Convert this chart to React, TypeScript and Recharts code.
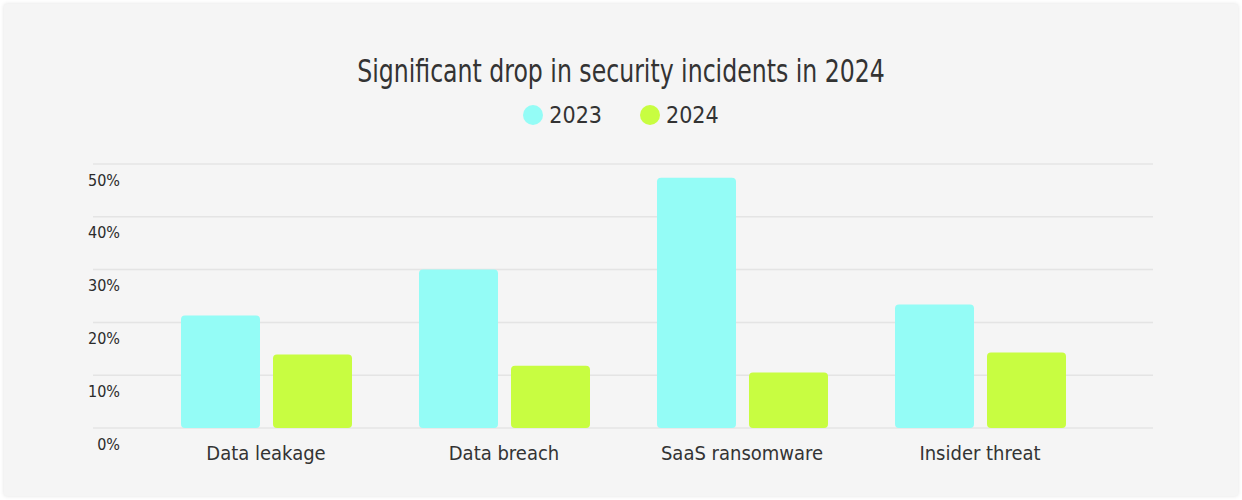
import React from 'react'
import { BarChart, Bar, XAxis, YAxis, CartesianGrid, Legend } from 'recharts'

const categories = ['Data leakage', 'Data breach', 'SaaS ransomware', 'Insider threat']
const values2023 = [21.3, 30, 47.4, 23.4]
const values2024 = [13.9, 11.8, 10.5, 14.3]
const yTicks = [0, 10, 20, 30, 40, 50]
const seriesNames = ['2023', '2024']

const FONT = '"DejaVu Sans Condensed", "DejaVu Sans", sans-serif'
const COLORS = ['#94fcf6', '#c8fd41']

const data = categories.map((name, i) => ({ name, y2023: values2023[i], y2024: values2024[i] }))

function YTick(props: any) {
  const { y, payload } = props
  return (
    <text x={116} y={y + 16} dy="0.35em" textAnchor="end" fontFamily={FONT} fontSize={16} fill="#2b2b2b">
      {payload.value}%
    </text>
  )
}

function LegendContent() {
  return (
    <div style={{ display: 'flex', justifyContent: 'center', gap: 38, fontFamily: FONT, fontSize: 23, color: '#333', height: 26 }}>
      {seriesNames.map((s, i) => (
        <div key={s} style={{ display: 'flex', alignItems: 'center' }}>
          <span style={{ width: 20, height: 20, borderRadius: 10, background: COLORS[i], display: 'inline-block', marginRight: 6 }} />
          <span>{s}</span>
        </div>
      ))}
    </div>
  )
}

export default function App() {
  return (
    <div style={{ position: 'fixed', left: 0, top: 0, width: 1242, height: 500, background: '#fff' }}>
      <div style={{ position: 'absolute', left: 4, top: 4, width: 1234, height: 492, background: '#f5f5f5', borderRadius: 3, boxShadow: '0 0 4px rgba(0,0,0,0.12)' }}>
        <div style={{ position: 'absolute', left: 0, top: 48, width: 1234, textAlign: 'center', fontFamily: FONT, fontSize: 32, color: '#333', transform: 'scaleX(0.82)' }}>
          Significant drop in security incidents in 2024
        </div>
        <BarChart width={1234} height={492} data={data} margin={{ top: 134, right: 85, bottom: 38, left: 29 }} barCategoryGap={34} barGap={13}>
          <CartesianGrid vertical={false} stroke="#e4e4e4" strokeWidth={1.5} />
          <XAxis dataKey="name" axisLine={false} tickLine={false} tickSize={0} tickMargin={18} padding={{ left: 54, right: 54 }} height={30}
            tick={{ fontFamily: FONT, fontSize: 20, fill: '#333' }} interval={0} />
          <YAxis domain={[0, 50]} ticks={yTicks} width={60} axisLine={false} tickLine={false} tick={<YTick />} interval={0} />
          <Legend verticalAlign="top" content={<LegendContent />} wrapperStyle={{ top: 98, left: 0, width: 1234 }} />
          <Bar dataKey="y2023" name="2023" fill={COLORS[0]} radius={4} isAnimationActive={false} />
          <Bar dataKey="y2024" name="2024" fill={COLORS[1]} radius={4} isAnimationActive={false} />
        </BarChart>
      </div>
    </div>
  )
}
